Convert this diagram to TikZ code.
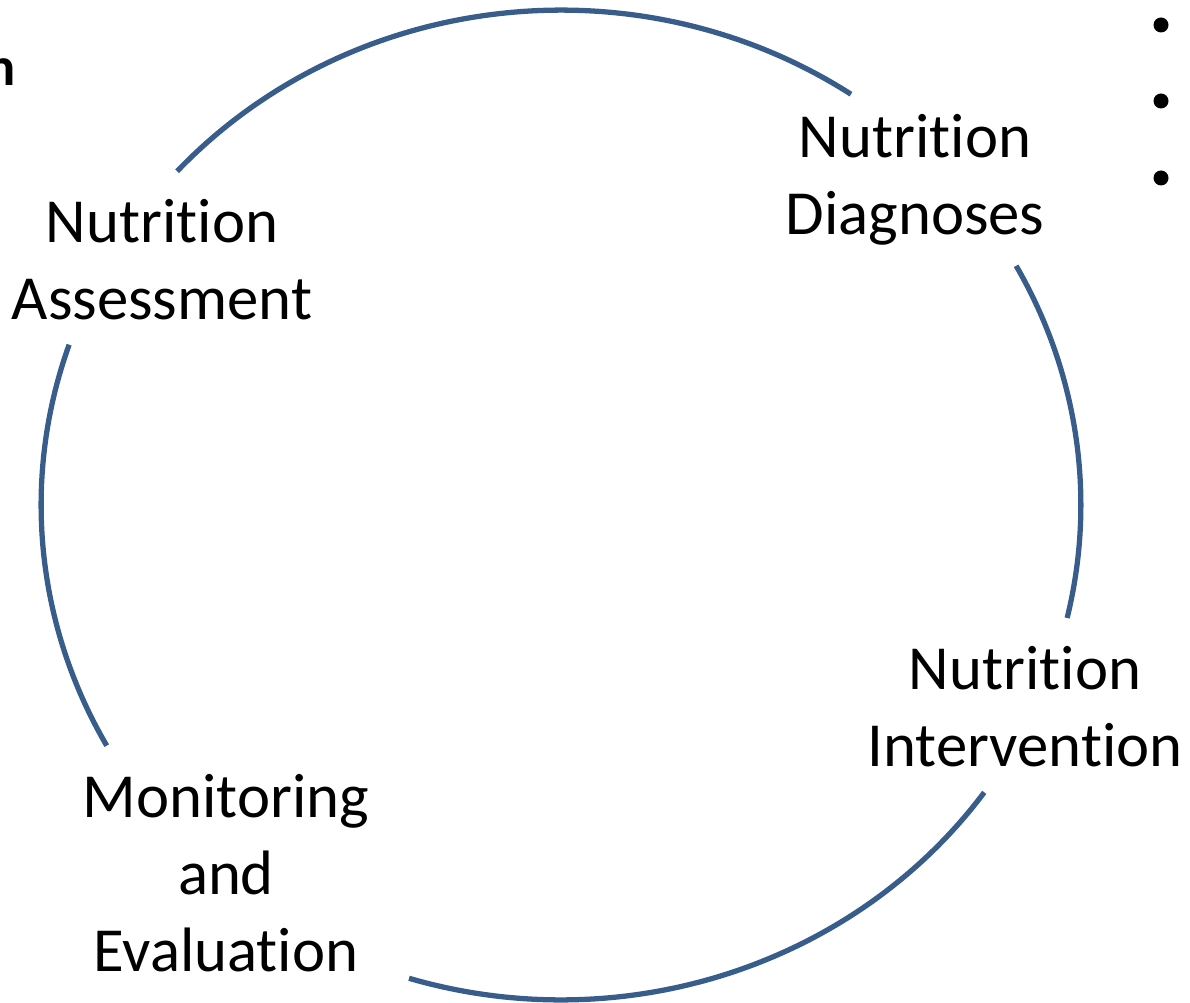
\documentclass[tikz,border=0pt]{standalone}
\usepackage{fontspec}
\setmainfont{Carlito}[Ligatures=NoCommon]
\usetikzlibrary{calc}
\definecolor{ringblue}{RGB}{56,93,138}
\begin{document}
\begin{tikzpicture}[x=0.02cm,y=0.02cm,
  stage/.style={align=center,inner sep=0pt,font=\fontsize{35.7}{43.8}\selectfont},
  ring/.style={draw=ringblue,line width=3pt},
  bulletdot/.style={circle,fill=black,inner sep=0pt,minimum size=0.3cm}]
\useasboundingbox (0,0) rectangle (1190,1003);
\coordinate (c) at (561,498);
% stage labels
\node[stage] (assess) at (162,743) {Nutrition\\Assessment};
\node[stage] (diag) at (915,823) {Nutrition\\Diagnoses};
\node[stage] (interv) at (1025,296) {Nutrition\\Intervention};
\node[stage] (monitor) at (226,130) {Monitoring\\and\\Evaluation};
% partial heading and list bullets at the edges
\node[anchor=base east,inner sep=0pt,font=\fontsize{31}{38}\selectfont\bfseries] (head) at (16,917) {n};
\node[bulletdot] (b1) at (1161,978) {};
\node[bulletdot] (b2) at (1161,902) {};
\node[bulletdot] (b3) at (1161,825) {};
% cycle arcs between the stages
\draw[ring] ($(c)+(137.6:10.4cm and 9.9cm)$) arc[start angle=137.6,end angle=56.1,x radius=10.4cm,y radius=9.9cm];
\draw[ring] ($(c)+(28.9:10.4cm and 9.9cm)$) arc[start angle=28.9,end angle=-13.2,x radius=10.4cm,y radius=9.9cm];
\draw[ring] ($(c)+(-35.5:10.4cm and 9.9cm)$) arc[start angle=-35.5,end angle=-107,x radius=10.4cm,y radius=9.9cm];
\draw[ring] ($(c)+(-150.9:10.4cm and 9.9cm)$) arc[start angle=-150.9,end angle=-198.9,x radius=10.4cm,y radius=9.9cm];
\end{tikzpicture}
\end{document}
